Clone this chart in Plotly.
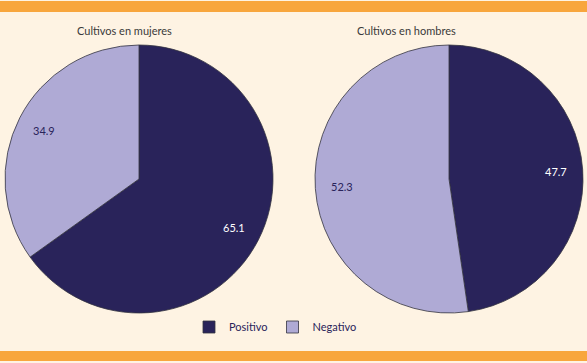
import math
import plotly.graph_objects as go

labels = ["Positivo", "Negativo"]
mujeres = [65.1, 34.9]
hombres = [47.7, 52.3]
titles = ["Cultivos en mujeres", "Cultivos en hombres"]
colors = ["#29235A", "#AFAAD5"]
text_colors = ["#FFFFFF", "#29235A"]

W, H = 587, 363
R = 134
centers = [(139, 179), (449, 179)]

def dom(cx, cy):
    return dict(x=[(cx - R) / W, (cx + R) / W], y=[1 - (cy + R) / H, 1 - (cy - R) / H])

fig = go.Figure()
common = dict(
    labels=labels, sort=False, direction="clockwise", rotation=0,
    marker=dict(colors=colors, line=dict(color="#333340", width=0.8)),
    textinfo="none", hoverinfo="label+value",
)
for vals, (cx, cy), nm in zip([mujeres, hombres], centers, ["mujeres", "hombres"]):
    fig.add_trace(go.Pie(values=vals, domain=dom(cx, cy), name=nm, **common))
    total = sum(vals)
    cum = 0
    for v, tc in zip(vals, text_colors):
        mid = (cum + v / 2) / total * 2 * math.pi
        cum += v
        x = cx + 0.8 * R * math.sin(mid)
        y = cy - 0.8 * R * math.cos(mid)
        fig.add_annotation(text=f"{v:.1f}", x=x / W, y=1 - y / H, xref="paper", yref="paper",
                           xanchor="center", yanchor="middle",
                           showarrow=False, font=dict(size=11, color=tc, family="Lato"))

for t, tx in zip(titles, [124, 406]):
    fig.add_annotation(text=t, x=tx / W, y=1 - 31 / H, xref="paper", yref="paper",
                       xanchor="center", yanchor="middle",
                       showarrow=False, font=dict(size=11, color="#3A3A3A", family="Lato"))

fig.add_shape(type="rect", xref="paper", yref="paper", x0=0, x1=1,
              y0=1 - 12 / H, y1=1 - 1 / H, fillcolor="#F8A63D", line=dict(width=0), layer="below")
fig.add_shape(type="rect", xref="paper", yref="paper", x0=0, x1=1,
              y0=1 - 361 / H, y1=1 - 351 / H, fillcolor="#F8A63D", line=dict(width=0), layer="below")

fig.update_layout(
    width=W, height=H, margin=dict(l=0, r=0, t=0, b=0),
    paper_bgcolor="#FEF3E3", plot_bgcolor="#FEF3E3",
    showlegend=True,
    legend=dict(orientation="h", x=0.5 - 18 / W, xanchor="center", y=1 - 327 / H, yanchor="middle",
                font=dict(size=11, color="#29235A", family="Lato"),
                bgcolor="rgba(0,0,0,0)", itemwidth=30, traceorder="normal"),
)
fig.write_html("out.html", config={"displayModeBar": False},
               post_script="document.body.style.margin='0';document.body.style.background='#FEF3E3';")
